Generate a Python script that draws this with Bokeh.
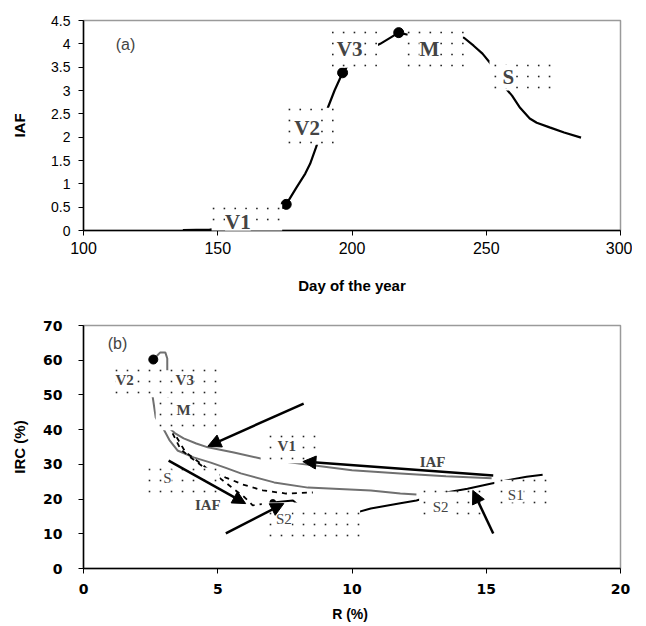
from bokeh.plotting import figure
from bokeh.layouts import column
from bokeh.models import (FixedTicker, Arrow, NormalHead, Label, ColumnDataSource,
                          Range1d, BoxAnnotation)
from bokeh.embed import file_html
from bokeh.resources import INLINE

# ---------------- data: panel (a) ----------------
day = [137, 147, 155, 165, 172, 175.5, 179.3, 182.6, 184.4, 186.6, 188.5, 191, 193.5, 196.5,
       200, 205, 210.5, 217.4, 220.4, 225, 232, 238, 241.7, 245.3, 248.6, 251.6, 255,
       259.6, 262.6, 266.2, 268.8, 273.6, 279, 285.3]
iaf = [0.01, 0.02, 0.05, 0.2, 0.4, 0.56, 0.92, 1.22, 1.43, 1.78, 2.1, 2.63, 3.0, 3.38,
       3.65, 3.85, 4.0, 4.24, 4.2, 4.2, 4.18, 4.15, 4.13, 3.96, 3.79, 3.58, 3.2,
       2.89, 2.63, 2.40, 2.31, 2.21, 2.1, 1.99]
stage_day = [175.5, 196.5, 217.4]
stage_iaf = [0.56, 3.38, 4.24]
xticks_a = [100, 150, 200, 250, 300]
yticks_a = [0, 0.5, 1, 1.5, 2, 2.5, 3, 3.5, 4, 4.5]
ylabels_a = ["0", "0.5", "1", "1.5", "2", "2.5", "3", "3.5", "4", "4.5"]
stages_a = ["V1", "V2", "V3", "M", "S"]

# ---------------- data: panel (b) ----------------
start_r = [2.6]
start_irc = [60.2]
gray1_r = [2.6, 2.85, 3.05, 3.12, 3.12, 3.15, 3.17, 3.4, 3.73, 4.2, 4.63, 5.6, 6.6, 8.1,
           10.0, 11.8, 13.5, 15.2]
gray1_irc = [60.2, 62.2, 62.2, 60.5, 57, 48, 40.6, 39, 37.5, 36, 34.9, 33.4, 31.7, 30.2,
             28.3, 27.4, 26.6, 26]
gray2_r = [2.6, 2.57, 2.69, 2.8, 2.95, 3.2, 3.5, 4.1, 4.74, 5.3, 5.86, 7.1, 8.36, 10.7,
           11.8, 12.4]
gray2_irc = [55, 49.8, 43.5, 42, 40.6, 37, 34, 32, 30.5, 29, 27.4, 24.8, 23.3, 22.5,
             21.6, 21.3]
dashA_r = [3.32, 3.62, 3.99, 4.59, 5.30, 5.93, 6.68, 7.54, 8.54]
dashA_irc = [38.9, 34.3, 32.0, 28.5, 26.2, 24.2, 22.5, 21.6, 21.9]
dashB_r = [3.47, 3.8, 4.4, 5.0, 5.5, 6.0, 6.3, 6.9]
dashB_irc = [37.8, 33.5, 30.0, 26.5, 23.5, 20.5, 18.2, 18.8]
sen_r = [7.05, 7.8, 8.2, 9.2, 10.15, 10.7, 11.8, 12.4, 13.3, 14.3, 15.2, 15.9, 16.5, 17.1]
sen_irc = [19, 19.6, 17.0, 15.8, 16.1, 17.3, 18.8, 19.6, 21.6, 23, 24.5, 25.6, 26.4, 27]
sen_start_r = [7.05]
sen_start_irc = [19]
xticks_b = [0, 5, 10, 15, 20]
yticks_b = [0, 10, 20, 30, 40, 50, 60, 70]
stages_b = ["V2", "V3", "M", "V1", "S", "S2", "S2", "S1"]

# arrows (b): start -> end
arr_x0 = [8.2, 15.26, 3.17, 5.3, 15.26]
arr_y0 = [47.5, 26.8, 31.1, 10.1, 10.1]
arr_x1 = [4.63, 8.17, 6.04, 7.46, 14.5]
arr_y1 = [35.2, 30.8, 18.7, 18.7, 22.5]

SERIF = "Liberation Serif"
W = 632
DOT_STEP = 11.0


def dotted_boxes(p, boxes, xpp, ypp, x0, y0):
    """White text boxes with a sparse dotted pattern (xpp/ypp = data units per pixel)."""
    dx, dy = [], []
    for (l, r, b, t) in boxes:
        p.add_layout(BoxAnnotation(left=l, right=r, bottom=b, top=t, fill_color="white",
                                   fill_alpha=1, line_color=None, level="guide"))
        i = int((l - x0) / (DOT_STEP * xpp)) + 1
        while x0 + i * DOT_STEP * xpp < r:
            j = int((b - y0) / (DOT_STEP * ypp)) + 1
            while y0 + j * DOT_STEP * ypp < t:
                dx.append(x0 + i * DOT_STEP * xpp)
                dy.append(y0 + j * DOT_STEP * ypp)
                j += 1
            i += 1
    sc = p.scatter(dx, dy, marker="square", size=1.6, fill_color="#222222",
                   line_color=None)
    sc.level = "annotation"


def style_axes(p, font, style, size):
    for ax in (p.xaxis[0], p.yaxis[0]):
        ax.axis_line_color = "black"
        ax.axis_line_width = 1.5
        ax.major_tick_line_color = "black"
        ax.major_tick_out = 5
        ax.major_tick_in = 0
        ax.minor_tick_line_color = None
        ax.major_label_text_font = font
        ax.major_label_text_font_style = style
        ax.major_label_text_font_size = size
        ax.major_label_text_color = "black"
        ax.axis_label_text_font = "Liberation Sans"
        ax.axis_label_text_font_style = "bold"
        ax.axis_label_text_color = "black"


# ================= panel (a) =================
pa = figure(width=W, height=300, output_backend="svg", toolbar_location=None,
            x_range=Range1d(100, 300), y_range=Range1d(0, 4.5),
            min_border_left=77, min_border_right=10, min_border_top=20,
            min_border_bottom=70)
pa.grid.visible = False
pa.outline_line_color = "#9a9a9a"
pa.outline_line_width = 1.5

pa.line(day, iaf, line_color="black", line_width=2.2)
pa.scatter(stage_day, stage_iaf, size=10, fill_color="black", line_color="black")

style_axes(pa, "Liberation Sans", "normal", "14px")
pa.xaxis.ticker = FixedTicker(ticks=xticks_a)
pa.xaxis.major_label_text_font_size = "16px"
pa.xaxis.major_label_standoff = 6
pa.xaxis.axis_label = "Day of the year"
pa.xaxis.axis_label_text_font_size = "15px"
pa.xaxis.axis_label_standoff = 20
pa.yaxis.ticker = FixedTicker(ticks=yticks_a)
pa.yaxis.major_label_overrides = {t: s for t, s in zip(yticks_a, ylabels_a)}
pa.yaxis.major_label_standoff = 8
pa.yaxis.axis_label = "IAF"
pa.yaxis.axis_label_text_font_size = "15px"
pa.yaxis.axis_label_standoff = 20

boxes_a = [(147.7, 174.0, -0.21, 0.56), (176.0, 194.3, 1.84, 2.63),
           (191.0, 209.7, 3.49, 4.33), (220.7, 241.3, 3.49, 4.33),
           (251.2, 274.0, 3.0, 3.64)]
text_a = [(157.5, 0.19), (183.3, 2.2), (199.1, 3.9), (228.8, 3.9), (258.2, 3.3)]
dotted_boxes(pa, boxes_a, 200 / 545, 4.5 / 210, 100, 0)
for s, (x, y) in zip(stages_a, text_a):
    pa.add_layout(Label(x=x, y=y, text=s, text_font=SERIF, text_font_style="bold",
                        text_font_size="21px", text_align="center",
                        text_baseline="middle", background_fill_color="white",
                        level="overlay"))
pa.add_layout(Label(x=112.0, y=3.98, text="(a)", text_font="Liberation Sans",
                    text_font_size="16px", text_baseline="middle", text_align="left"))

# ================= panel (b) =================
pb = figure(width=W, height=326, output_backend="svg", toolbar_location=None,
            x_range=Range1d(0, 20), y_range=Range1d(0, 70),
            min_border_left=83, min_border_right=12, min_border_top=25,
            min_border_bottom=58)
pb.grid.visible = False
pb.outline_line_color = "#9a9a9a"
pb.outline_line_width = 1.5

pb.line(gray1_r, gray1_irc, line_color="#707070", line_width=2)
pb.line(gray2_r, gray2_irc, line_color="#707070", line_width=2)
pb.line(dashA_r, dashA_irc, line_color="black", line_width=1.8, line_dash="5 5")
pb.line(dashB_r, dashB_irc, line_color="black", line_width=1.8, line_dash="5 5")
pb.line(sen_r, sen_irc, line_color="black", line_width=2)
pb.scatter(start_r, start_irc, size=9, fill_color="black", line_color="black")
pb.scatter(sen_start_r, sen_start_irc, size=6, fill_color="black", line_color="black")

style_axes(pb, "DejaVu Sans", "bold", "14px")
pb.xaxis.ticker = FixedTicker(ticks=xticks_b)
pb.xaxis.major_label_standoff = 10
pb.xaxis.axis_label = "R  (%)"
pb.xaxis.axis_label_text_font_size = "14px"
pb.xaxis.axis_label_standoff = 9
pb.yaxis.ticker = FixedTicker(ticks=yticks_b)
pb.yaxis.major_label_standoff = 16
pb.yaxis.axis_label = "IRC (%)"
pb.yaxis.axis_label_text_font_size = "15px"
pb.yaxis.axis_label_standoff = 12

boxes_b = [(0.82, 2.95, 49.3, 57.1), (2.95, 5.07, 49.3, 57.1), (2.69, 5.0, 39.8, 49.3),
           (6.6, 8.84, 30.3, 38.6), (2.31, 5.07, 20.7, 29.1), (6.64, 10.3, 8.1, 19.0),
           (12.5, 14.9, 14.4, 22.2), (15.3, 17.6, 17.3, 25.6)]
text_b = [(1.53, 54.2, "bold"), (3.77, 54.2, "bold"), (3.73, 45.8, "bold"),
          (7.57, 35.2, "bold"), (3.13, 26.2, "normal"), (7.46, 14.4, "normal"),
          (13.3, 17.6, "normal"), (16.1, 21.3, "normal")]
dotted_boxes(pb, boxes_b, 20 / 537, 70 / 243, 0, 0)
for s, (x, y, st) in zip(stages_b, text_b):
    pb.add_layout(Label(x=x, y=y, text=s, text_font=SERIF, text_font_style=st,
                        text_font_size="15px", text_align="center",
                        text_baseline="middle", background_fill_color="white",
                        level="overlay"))
for (x, y) in [(4.63, 18.4), (13.0, 30.8)]:
    pb.add_layout(Label(x=x, y=y, text="IAF", text_font=SERIF, text_font_style="bold",
                        text_font_size="15px", text_align="center",
                        text_baseline="middle", level="overlay"))

arr_src = ColumnDataSource(dict(x0=arr_x0, y0=arr_y0, x1=arr_x1, y1=arr_y1))
pb.add_layout(Arrow(x_start="x0", y_start="y0", x_end="x1", y_end="y1", source=arr_src,
                    line_color="black", line_width=2.5, level="overlay",
                    end=NormalHead(size=13, fill_color="black", line_color="black")))

pb.add_layout(Label(x=0.9, y=64.8, text="(b)", text_font="Liberation Sans",
                    text_font_size="16px", text_baseline="middle", text_align="left"))

layout = column(pa, pb, spacing=0)
open("out.html", "w").write(file_html(layout, INLINE))
